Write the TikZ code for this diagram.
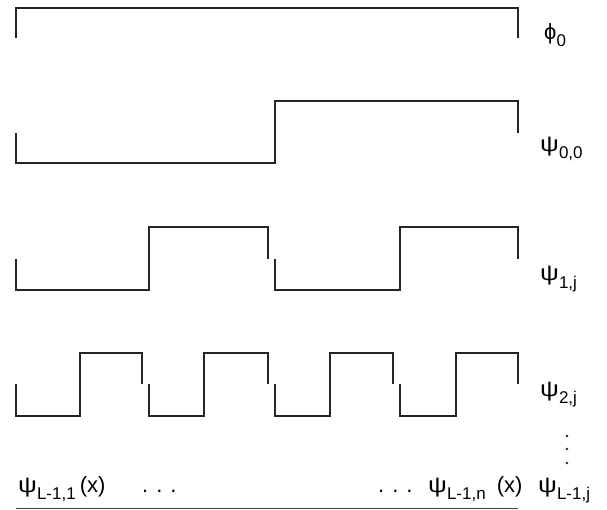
\documentclass[tikz,border=0pt]{standalone}
\usepackage{fontspec}
\usepackage{graphicx}
\setmainfont{Liberation Sans}
\newcommand{\lo}[1]{\raisebox{-7pt}{\fontsize{17}{17}\selectfont #1}}
\newcommand{\wpsi}{\scalebox{1.2}[1]{ψ}}
\newcommand{\spdots}{.\hspace{8pt}.\hspace{8pt}.}

\begin{document}
\begin{tikzpicture}[
    x=1pt, y=-1pt,
    wave/.style={line width=1.3pt, black!85},
    lbl/.style={anchor=base west, inner sep=0pt, font=\fontsize{22}{22}\selectfont}
    ]
    \useasboundingbox (0,0) rectangle (607,510);

    % scaling function
    \draw[wave] (16,38) -- (16,8) -- (518,8) -- (518,38);
    % level 0
    \draw[wave] (16,133) -- (16,163) -- (275,163) -- (275,101) -- (518,101) -- (518,133);
    % level 1
    \foreach \a/\m/\b in {16/149/268, 275/400/518}
        \draw[wave] (\a,259) -- (\a,290) -- (\m,290) -- (\m,227) -- (\b,227) -- (\b,259);
    % level 2
    \foreach \a/\m/\b in {16/80/142, 149/204/268, 275/330/393, 400/456/518}
        \draw[wave] (\a,384) -- (\a,416) -- (\m,416) -- (\m,353) -- (\b,353) -- (\b,384);

    \node[lbl] (phi) at (544,40) {ϕ\lo{0}};
    \node[lbl] (psi00) at (540,152) {\wpsi\lo{0,0}};
    \node[lbl] (psi1) at (540,281) {\wpsi\lo{1,j}};
    \node[lbl] (psi2) at (540,396) {\wpsi\lo{2,j}};
    \foreach \y in {436,449,463}
        \fill[black!85] (567,\y) circle (1.3pt);

    \node[lbl] (first) at (18,492) {\wpsi\lo{L-1,1}\hspace{4pt}(x)};
    \node[lbl] (dl) at (142,492) {\spdots};
    \node[lbl] (dr) at (378,492) {\spdots};
    \node[lbl] (last) at (428,492) {\wpsi\lo{L-1,n}\hspace{11pt}(x)};
    \node[lbl] (psiL) at (538,492) {\wpsi\lo{L-1,j}};

    \draw[line width=1pt, black!75] (16,508) -- (518,508);

\end{tikzpicture}
\end{document}
